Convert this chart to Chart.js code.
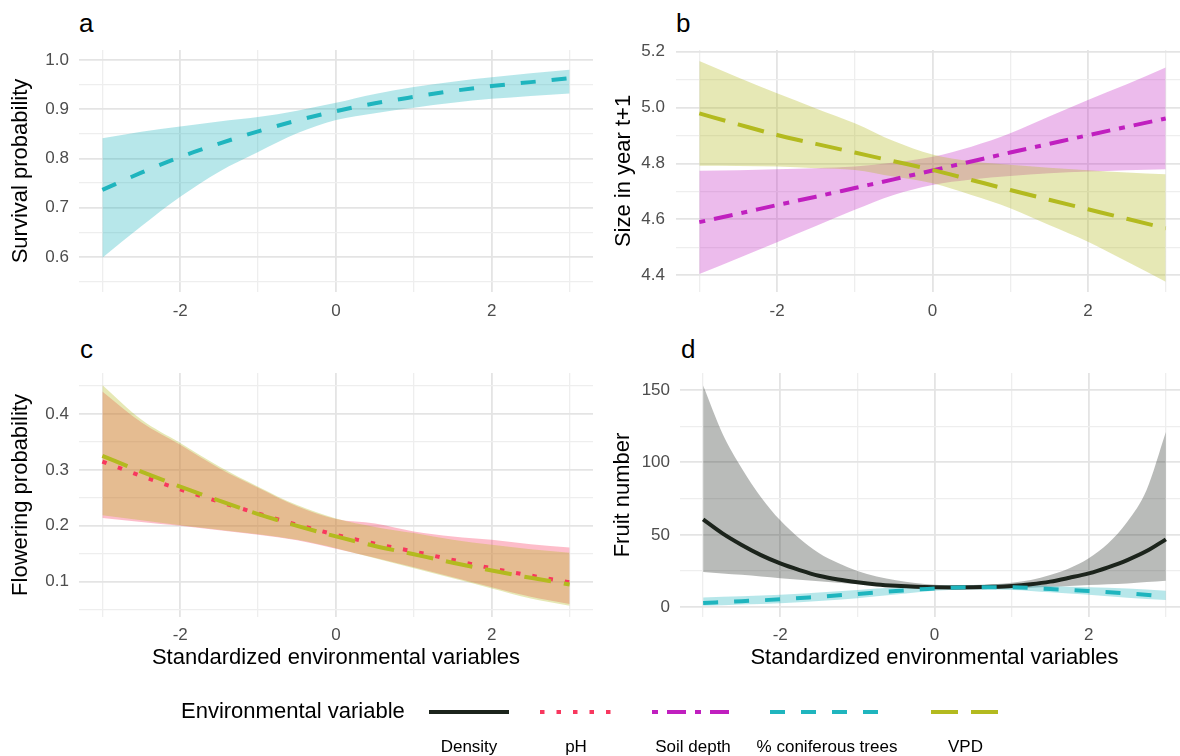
<!DOCTYPE html>
<html>
<head>
<meta charset="utf-8">
<script src="https://cdn.jsdelivr.net/npm/chart.js@4.4.1/dist/chart.umd.min.js"></script>
<style>
  html, body { margin: 0; padding: 0; background: #fff; overflow: hidden; }
  body { width: 1180px; height: 756px; position: relative; font-family: "Liberation Sans", Arial, sans-serif; }
  canvas { position: absolute; }
  .tag { position: absolute; font-size: 26px; line-height: 26px; color: #000; }
</style>
</head>
<body>
<div class="tag" style="left:79px; top:10px;">a</div>
<div class="tag" style="left:676px; top:10px;">b</div>
<div class="tag" style="left:80px; top:336px;">c</div>
<div class="tag" style="left:681px; top:336px;">d</div>

<canvas id="chartA" width="600" height="330" style="left:0; top:0;"></canvas>
<canvas id="chartB" width="620" height="330" style="left:590px; top:0;"></canvas>
<canvas id="chartC" width="600" height="360" style="left:0; top:330px;"></canvas>
<canvas id="chartD" width="620" height="360" style="left:590px; top:330px;"></canvas>
<canvas id="legend" width="1180" height="76" style="left:0; top:680px;"></canvas>

<script>
// x positions (standardized variable)
const xHalf = [-3, -2.5, -2, -1.5, -1, -0.5, 0, 0.5, 1, 1.5, 2, 2.5, 3];
const xQuarter = [-3, -2.75, -2.5, -2.25, -2, -1.75, -1.5, -1.25, -1, -0.75, -0.5, -0.25, 0,
                  0.25, 0.5, 0.75, 1, 1.25, 1.5, 1.75, 2, 2.25, 2.5, 2.75, 3];

// a: survival ~ % coniferous trees
const survivalFit   = [0.736, 0.771, 0.803, 0.830, 0.855, 0.877, 0.896, 0.912, 0.925, 0.937, 0.947, 0.955, 0.963];
const survivalUpper = [0.841, 0.854, 0.865, 0.875, 0.884, 0.897, 0.913, 0.931, 0.945, 0.956, 0.965, 0.973, 0.980];
const survivalLower = [0.598, 0.662, 0.722, 0.773, 0.813, 0.851, 0.878, 0.892, 0.903, 0.913, 0.921, 0.927, 0.932];

// b: size in year t+1 ~ soil depth, VPD
const sizeSoilFit   = [4.590, 4.620, 4.651, 4.681, 4.712, 4.743, 4.775, 4.807, 4.839, 4.870, 4.901, 4.931, 4.961];
const sizeSoilUpper = [4.774, 4.776, 4.779, 4.783, 4.789, 4.803, 4.824, 4.860, 4.908, 4.968, 5.027, 5.083, 5.143];
const sizeSoilLower = [4.404, 4.461, 4.518, 4.576, 4.634, 4.687, 4.723, 4.743, 4.755, 4.765, 4.771, 4.776, 4.779];
const sizeVpdFit    = [4.979, 4.940, 4.902, 4.870, 4.839, 4.808, 4.777, 4.741, 4.705, 4.670, 4.636, 4.602, 4.568];
const sizeVpdUpper  = [5.167, 5.108, 5.051, 4.997, 4.944, 4.880, 4.832, 4.808, 4.795, 4.785, 4.776, 4.768, 4.761];
const sizeVpdLower  = [4.792, 4.791, 4.789, 4.783, 4.777, 4.753, 4.729, 4.687, 4.640, 4.580, 4.520, 4.449, 4.377];

// c: flowering probability ~ pH, VPD
const flowerPhFit    = [0.315, 0.289, 0.265, 0.243, 0.222, 0.202, 0.184, 0.168, 0.154, 0.139, 0.124, 0.111, 0.099];
const flowerPhUpper  = [0.440, 0.385, 0.345, 0.303, 0.268, 0.235, 0.212, 0.204, 0.190, 0.181, 0.175, 0.167, 0.161];
const flowerPhLower  = [0.214, 0.207, 0.200, 0.192, 0.184, 0.174, 0.159, 0.143, 0.126, 0.108, 0.090, 0.073, 0.060];
const flowerVpdFit   = [0.325, 0.297, 0.270, 0.245, 0.221, 0.200, 0.181, 0.164, 0.149, 0.134, 0.120, 0.107, 0.095];
const flowerVpdUpper = [0.452, 0.390, 0.348, 0.306, 0.270, 0.237, 0.213, 0.198, 0.187, 0.175, 0.166, 0.158, 0.152];
const flowerVpdLower = [0.219, 0.210, 0.201, 0.193, 0.185, 0.175, 0.160, 0.142, 0.124, 0.106, 0.088, 0.070, 0.057];

// d: fruit number ~ density (quarter steps), % coniferous trees (half steps)
const fruitDensityFit   = [60.6, 51, 43, 36, 30.3, 25.7, 21.8, 19.2, 17.3, 15.8, 14.8, 14.1, 13.8,
                           13.7, 13.8, 14.1, 14.7, 15.9, 17.7, 20.4, 23.4, 27.6, 32.6, 38.8, 46.9];
const fruitDensityUpper = [153, 120, 96, 76, 60, 47.5, 37.5, 30.5, 25, 21.2, 18.6, 16.8, 15.6,
                           15.2, 15.3, 15.9, 17, 18.9, 22.3, 26.9, 33.8, 44, 59, 81, 121];
const fruitDensityLower = [24.4, 23.4, 22.4, 21.2, 20.1, 19, 18, 17, 16.1, 15.3, 14.6, 13.9, 13.2,
                           12.7, 12.5, 12.6, 13, 13.5, 14.1, 14.7, 15.3, 15.9, 16.5, 17.4, 18.4];
const fruitConiferFit   = [3.0, 4.2, 5.5, 7.3, 9.2, 11.2, 13.0, 13.8, 13.8, 12.6, 11.3, 9.6, 7.4];
const fruitConiferUpper = [6.8, 7.6, 8.6, 10.2, 12.0, 13.6, 14.8, 15.4, 15.5, 14.7, 13.8, 13.0, 11.5];
const fruitConiferLower = [1.1, 2.0, 2.8, 4.4, 6.3, 8.8, 11.4, 12.2, 12.0, 10.4, 8.6, 6.6, 5.0];

// tick values
const xTicks = [-2, 0, 2];
const xMinor = [-3, -1, 1, 3];
const survivalTicks = [0.6, 0.7, 0.8, 0.9, 1.0];
const survivalMinor = [0.55, 0.65, 0.75, 0.85, 0.95];
const sizeTicks = [4.4, 4.6, 4.8, 5.0, 5.2];
const sizeMinor = [4.5, 4.7, 4.9, 5.1];
const flowerTicks = [0.1, 0.2, 0.3, 0.4];
const flowerMinor = [0.05, 0.15, 0.25, 0.35, 0.45];
const fruitTicks = [0, 50, 100, 150];
const fruitMinor = [25, 75, 125];

const legendNames = ['Density', 'pH', 'Soil depth', '% coniferous trees', 'VPD'];

// styles per environmental variable
const styles = {
    density: { color: '#1C241C', band: 'rgba(28,36,28,0.31)', dash: [] },
    ph:      { color: '#F8375E', band: 'rgba(248,55,94,0.33)', dash: [4.5, 12] },
    soil:    { color: '#C01FBF', band: 'rgba(192,31,191,0.3)', dash: [6, 9, 19, 9] },
    conifer: { color: '#1FB5BE', band: 'rgba(31,181,190,0.32)', dash: [15, 16] },
    vpd:     { color: '#B3BA1F', band: 'rgba(179,186,31,0.33)', dash: [27, 13] }
};

Chart.defaults.font.family = '"Liberation Sans", Arial, sans-serif';
Chart.defaults.color = '#4d4d4d';

const pts = (xs, ys) => xs.map((x, i) => ({ x: x, y: ys[i] }));

function band(xs, lower, upper, style, order) {
    return [
        { data: pts(xs, lower), borderWidth: 0, borderColor: 'transparent', pointRadius: 0,
          fill: false, cubicInterpolationMode: 'monotone', order: order },
        { data: pts(xs, upper), borderWidth: 0, borderColor: 'transparent', pointRadius: 0,
          fill: '-1', backgroundColor: style.band, cubicInterpolationMode: 'monotone', order: order }
    ];
}

function line(xs, ys, style, order) {
    return { data: pts(xs, ys), borderColor: style.color, borderWidth: 4, borderDash: style.dash,
             borderCapStyle: 'butt', pointRadius: 0, fill: false, cubicInterpolationMode: 'monotone', order: order };
}

function gridFor(major) {
    return {
        drawTicks: false,
        color: c => (c.tick && major.includes(c.tick.value)) ? '#E4E4E4' : '#EEEEEE',
        lineWidth: c => (c.tick && major.includes(c.tick.value)) ? 1.8 : 1.3
    };
}

function makePanel(id, p) {
    const yAll = p.yTicks.concat(p.yMinor).sort((a, b) => a - b);
    const xAll = xTicks.concat(xMinor).sort((a, b) => a - b);
    new Chart(document.getElementById(id), {
        type: 'line',
        data: { datasets: p.datasets },
        options: {
            responsive: false,
            animation: false,
            events: [],
            devicePixelRatio: 1,
            layout: { padding: { top: p.top, right: p.right, left: 0, bottom: 0 } },
            plugins: {
                legend: { display: false },
                tooltip: { enabled: false },
                filler: { drawTime: 'beforeDatasetsDraw' }
            },
            scales: {
                x: {
                    type: 'linear', min: -3.3, max: 3.3,
                    afterBuildTicks: s => { s.ticks = xAll.map(v => ({ value: v })); },
                    afterFit: s => { s.height = p.xHeight; },
                    ticks: { autoSkip: false, maxRotation: 0, padding: p.xPad, color: '#4d4d4d', font: { size: 17 },
                             callback: v => xTicks.includes(v) ? String(v) : '' },
                    grid: gridFor(xTicks),
                    border: { display: false },
                    title: p.xTitle ? { display: true, text: p.xTitle, color: '#000', font: { size: 22 },
                                        padding: { top: 0, bottom: 19 } } : { display: false }
                },
                y: {
                    type: 'linear', min: p.yMin, max: p.yMax,
                    afterBuildTicks: s => { s.ticks = yAll.map(v => ({ value: v })); },
                    afterFit: s => { s.width = p.yWidth; },
                    ticks: { autoSkip: false, padding: p.yPad, color: '#4d4d4d', font: { size: 17 },
                             callback: v => p.yTicks.includes(v) ? p.fmt(v) : '' },
                    grid: gridFor(p.yTicks),
                    border: { display: false },
                    title: { display: true, text: p.yTitle, color: '#000', font: { size: 22 },
                             padding: { top: p.titlePad, bottom: 0 } }
                }
            }
        }
    });
}

makePanel('chartA', {
    top: 50, right: 7, yWidth: 79, xHeight: 38, xPad: 9, yPad: 10, titlePad: 8,
    yMin: 0.5285, yMax: 1.0203, yTicks: survivalTicks, yMinor: survivalMinor, fmt: v => v.toFixed(1),
    yTitle: 'Survival probability', xTitle: null,
    datasets: [
        ...band(xHalf, survivalLower, survivalUpper, styles.conifer, 10),
        line(xHalf, survivalFit, styles.conifer, 0)
    ]
});

makePanel('chartB', {
    top: 50, right: 21, yWidth: 86, xHeight: 38, xPad: 9, yPad: 11, titlePad: 21,
    yMin: 4.340, yMax: 5.206, yTicks: sizeTicks, yMinor: sizeMinor, fmt: v => v.toFixed(1),
    yTitle: 'Size in year t+1', xTitle: null,
    datasets: [
        ...band(xHalf, sizeSoilLower, sizeSoilUpper, styles.soil, 11),
        ...band(xHalf, sizeVpdLower, sizeVpdUpper, styles.vpd, 10),
        line(xHalf, sizeSoilFit, styles.soil, 1),
        line(xHalf, sizeVpdFit, styles.vpd, 0)
    ]
});

makePanel('chartC', {
    top: 43, right: 7, yWidth: 79, xHeight: 73, xPad: 8, yPad: 10, titlePad: 8,
    yMin: 0.0369, yMax: 0.4733, yTicks: flowerTicks, yMinor: flowerMinor, fmt: v => v.toFixed(1),
    yTitle: 'Flowering probability', xTitle: 'Standardized environmental variables',
    datasets: [
        ...band(xHalf, flowerPhLower, flowerPhUpper, styles.ph, 11),
        ...band(xHalf, flowerVpdLower, flowerVpdUpper, styles.vpd, 10),
        line(xHalf, flowerPhFit, styles.ph, 1),
        line(xHalf, flowerVpdFit, styles.vpd, 0)
    ]
});

makePanel('chartD', {
    top: 43, right: 21, yWidth: 90, xHeight: 73, xPad: 8, yPad: 10, titlePad: 20,
    yMin: -6.7, yMax: 161.7, yTicks: fruitTicks, yMinor: fruitMinor, fmt: v => String(v),
    yTitle: 'Fruit number', xTitle: 'Standardized environmental variables',
    datasets: [
        ...band(xQuarter, fruitDensityLower, fruitDensityUpper, styles.density, 11),
        ...band(xHalf, fruitConiferLower, fruitConiferUpper, styles.conifer, 10),
        line(xQuarter, fruitDensityFit, styles.density, 1),
        line(xHalf, fruitConiferFit, styles.conifer, 0)
    ]
});

// legend (keys on top, labels underneath)
function drawLegend() {
    const ctx = document.getElementById('legend').getContext('2d');
    const family = '"Liberation Sans", Arial, sans-serif';
    ctx.fillStyle = '#000';
    ctx.font = '22px ' + family;
    ctx.textBaseline = 'middle';
    ctx.textAlign = 'left';
    ctx.fillText('Environmental variable', 181, 32);

    const keyStyles = [styles.density, styles.ph, styles.soil, styles.conifer, styles.vpd];
    const keySpans = [[429, 509], [540, 612], [652, 734], [770, 884], [931, 1000]];
    keyStyles.forEach((s, i) => {
        const [x0, x1] = keySpans[i];
        ctx.save();
        ctx.strokeStyle = s.color;
        ctx.lineWidth = 4;
        ctx.lineCap = 'butt';
        ctx.setLineDash(s.dash);
        ctx.beginPath();
        ctx.moveTo(x0, 32);
        ctx.lineTo(x1, 32);
        ctx.stroke();
        ctx.restore();

        ctx.font = '17px ' + family;
        ctx.textAlign = 'center';
        ctx.fillStyle = '#000';
        ctx.fillText(legendNames[i], (x0 + x1) / 2, 67);
    });
}
drawLegend();
</script>
</body>
</html>
